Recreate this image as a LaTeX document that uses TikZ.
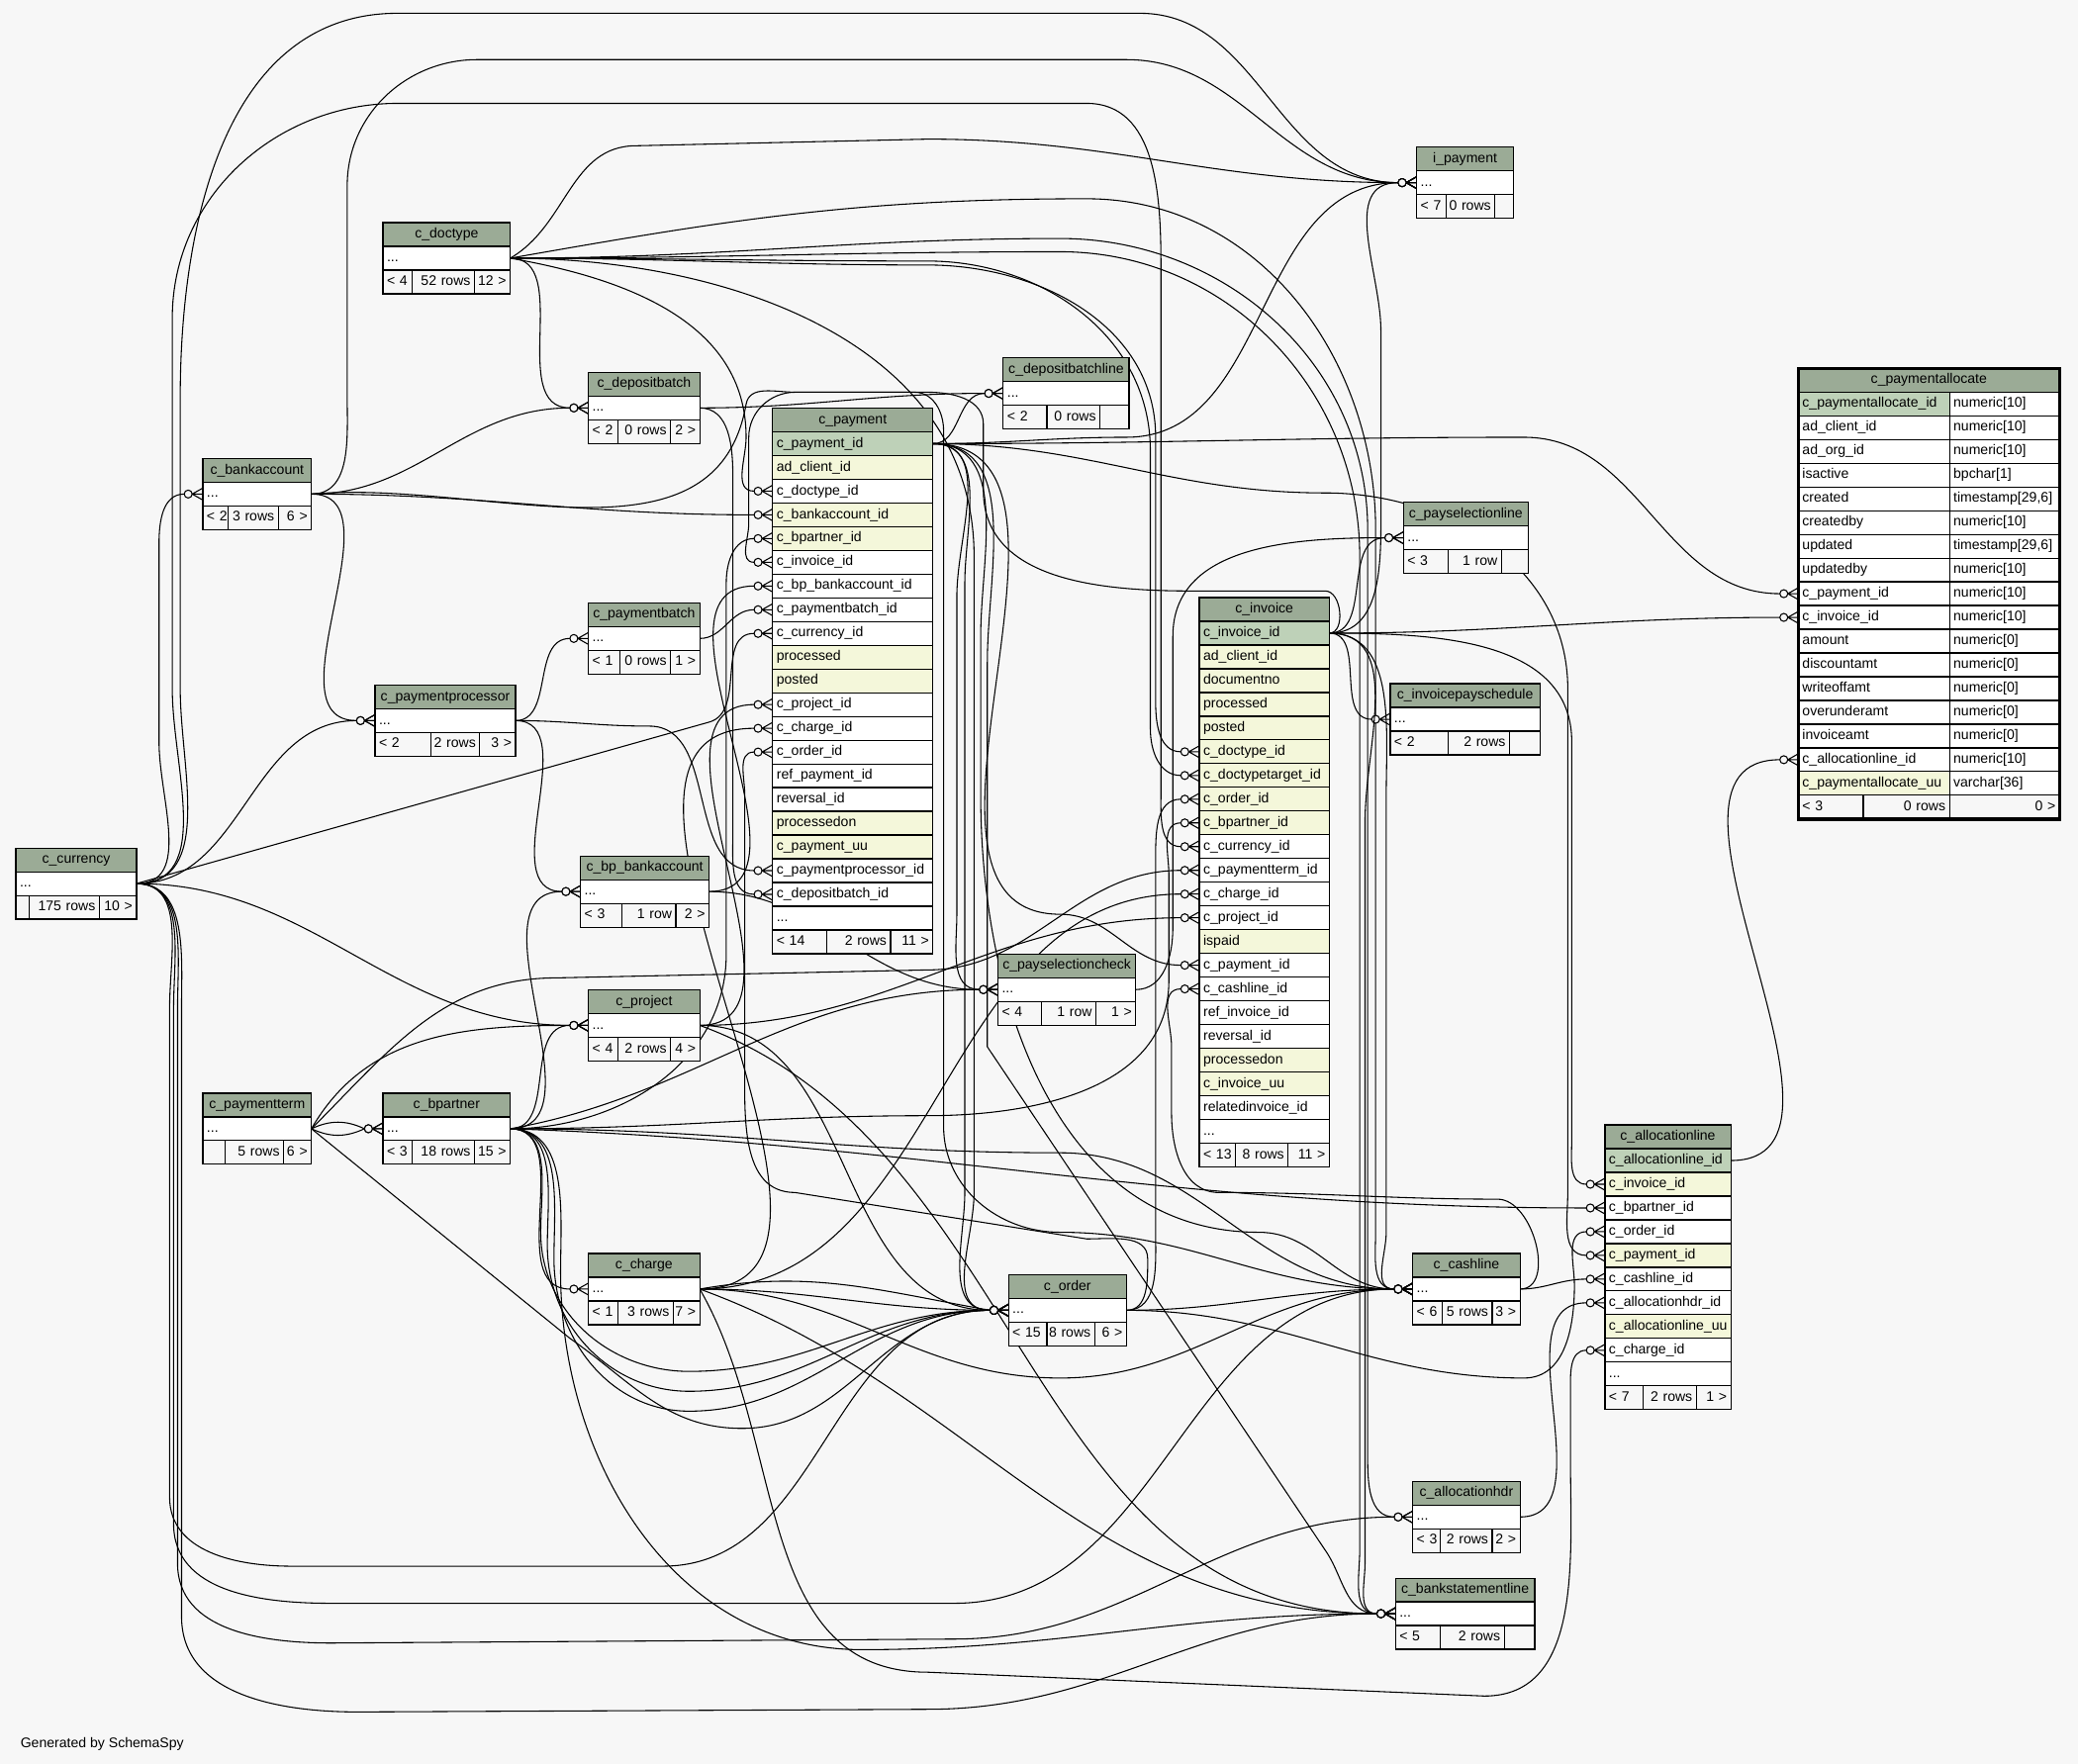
\documentclass[tikz,border=0pt]{standalone}
\usepackage{fontspec}
\setmainfont{Liberation Sans}
\usetikzlibrary{calc}

\definecolor{bgcol}{HTML}{F7F7F7}
\definecolor{hdrgreen}{HTML}{9BAB96}
\definecolor{pkgreen}{HTML}{BED1B8}
\definecolor{idxyellow}{HTML}{F4F7DA}

\newcommand{\tblfont}{\fontsize{10.5}{12}\selectfont}
\newcommand{\rowdots}{.\hbox{}..}

\pgfdeclarelayer{back}
\pgfsetlayers{back,main}

\tikzset{
  tblhead/.style={draw, line width=0.9pt, fill=hdrgreen, outer sep=0pt, inner xsep=3pt, inner ysep=0pt,
    minimum height=17.9pt, align=center, text height=7.6pt, text depth=2.2pt, font=\tblfont},
  tblrow/.style={draw, line width=0.9pt, outer sep=0pt, inner xsep=3pt, inner ysep=0pt,
    minimum height=17.9pt, align=left, text height=7.6pt, text depth=2.2pt, font=\tblfont},
  tblfoot/.style={tblrow, fill=bgcol},
  fkline/.style={line width=0.8pt},
  spl/.style={out=0, in=180},
  crowodot/.pic={
    \filldraw[line width=0.8pt, fill=bgcol] (-11,0) circle (3pt);
    \draw[line width=0.8pt] (-8,0) -- (0,-4.5) (-8,0) -- (0,0) (-8,0) -- (0,4.5);
  }
}

% table: name, title, left, right, top, rows
\newcommand{\dbtable}[6]{%
  \pgfmathsetmacro{\tw}{#4-#3-6}%
  \node[tblhead, text width=\tw pt, anchor=north west] (#1) at (#3,#5) {#2};
  \foreach [count=\i] \rtext/\rcol in {#6} {
    \node[tblrow, fill=\rcol, text width=\tw pt, anchor=north west] (#1-\i) at ($(#1.south west)+(0,{(\i-1)*17.9})$) {\rtext};
  }
}
% footer: name, last row, left, split, split, right, texts
\newcommand{\dbfoot}[9]{%
  \pgfmathsetmacro{\fwa}{#4-#3-6}\pgfmathsetmacro{\fwb}{#5-#4-6}\pgfmathsetmacro{\fwc}{#6-#5-6}%
  \node[tblfoot, text width=\fwa pt, anchor=north west] (#1-fa) at (#1-#2.south west) {\makebox[\hsize][l]{#7}};
  \node[tblfoot, text width=\fwb pt, anchor=north west] (#1-fb) at (#1-fa.north east) {\makebox[\hsize][r]{#8}};
  \node[tblfoot, text width=\fwc pt, anchor=north west] (#1-fc) at (#1-fb.north east) {\makebox[\hsize][r]{#9}};
}
% foreign key: parent row, path, child row
\newcommand{\fk}[3]{%
  \draw[fkline] (#1.east) #2 ([xshift=-14pt]#3.west);
  \pic at (#3.west) {crowodot};
}

\catcode`\_=12

\begin{document}
\begin{tikzpicture}[x=1pt, y=-1pt]
\useasboundingbox (0,0) rectangle (1568,1331.3);

% parents on the left
\dbtable{cur}{c_currency}{12}{103}{640}{\rowdots/white}
\dbfoot{cur}{1}{12}{22}{75}{103}{}{175 rows}{10 >}
\dbtable{bank}{c_bankaccount}{153}{235}{346}{\rowdots/white}
\dbfoot{bank}{1}{153}{172}{210}{235}{< 2}{3 rows}{6 >}
\dbtable{pterm}{c_paymentterm}{153}{235}{825}{\rowdots/white}
\dbfoot{pterm}{1}{153}{170}{214}{235}{}{5 rows}{6 >}
\dbtable{doct}{c_doctype}{289}{385}{168}{\rowdots/white}
\dbfoot{doct}{1}{289}{311}{358}{385}{< 4}{52 rows}{12 >}
\dbtable{bp}{c_bpartner}{289}{385}{825}{\rowdots/white}
\dbfoot{bp}{1}{289}{311}{358}{385}{< 3}{18 rows}{15 >}
\dbtable{pproc}{c_paymentprocessor}{283}{389}{517}{\rowdots/white}
\dbfoot{pproc}{1}{283}{325}{362}{389}{< 2}{2 rows}{3 >}
\dbtable{depb}{c_depositbatch}{444}{528}{281}{\rowdots/white}
\dbfoot{depb}{1}{444}{466}{506}{528}{< 2}{0 rows}{2 >}
\dbtable{pbatch}{c_paymentbatch}{444}{528}{455}{\rowdots/white}
\dbfoot{pbatch}{1}{444}{468}{506}{528}{< 1}{0 rows}{1 >}
\dbtable{bpbank}{c_bp_bankaccount}{438}{535}{646}{\rowdots/white}
\dbfoot{bpbank}{1}{438}{469}{510}{535}{< 3}{1 row}{2 >}
\dbtable{proj}{c_project}{444}{528}{747}{\rowdots/white}
\dbfoot{proj}{1}{444}{466}{506}{528}{< 4}{2 rows}{4 >}
\dbtable{chg}{c_charge}{444}{528}{946}{\rowdots/white}
\dbfoot{chg}{1}{444}{466}{508}{528}{< 1}{3 rows}{7 >}

% c_payment
\dbtable{pay}{c_payment}{583}{704}{308}{c_payment_id/pkgreen, ad_client_id/idxyellow, c_doctype_id/white,
  c_bankaccount_id/idxyellow, c_bpartner_id/idxyellow, c_invoice_id/white, c_bp_bankaccount_id/white,
  c_paymentbatch_id/white, c_currency_id/white, processed/idxyellow, posted/idxyellow, c_project_id/white,
  c_charge_id/white, c_order_id/white, ref_payment_id/white, reversal_id/white, processedon/idxyellow,
  c_payment_uu/idxyellow, c_paymentprocessor_id/white, c_depositbatch_id/white, \rowdots/white}
\dbfoot{pay}{21}{583}{624}{672}{704}{< 14}{2 rows}{11 >}

% middle column
\dbtable{dbline}{c_depositbatchline}{757}{852}{270}{\rowdots/white}
\dbfoot{dbline}{1}{757}{790}{830}{852}{< 2}{0 rows}{}
\dbtable{psc}{c_payselectioncheck}{753}{857}{720}{\rowdots/white}
\dbfoot{psc}{1}{753}{786}{827}{857}{< 4}{1 row}{1 >}
\dbtable{ord}{c_order}{761}{850}{962}{\rowdots/white}
\dbfoot{ord}{1}{761}{790}{826}{850}{< 15}{8 rows}{6 >}

% c_invoice
\dbtable{inv}{c_invoice}{905}{1003}{451}{c_invoice_id/pkgreen, ad_client_id/idxyellow, documentno/idxyellow,
  processed/idxyellow, posted/idxyellow, c_doctype_id/idxyellow, c_doctypetarget_id/idxyellow,
  c_order_id/idxyellow, c_bpartner_id/idxyellow, c_currency_id/white, c_paymentterm_id/white,
  c_charge_id/white, c_project_id/white, ispaid/idxyellow, c_payment_id/white, c_cashline_id/white,
  ref_invoice_id/white, reversal_id/white, processedon/idxyellow, c_invoice_uu/idxyellow,
  relatedinvoice_id/white, \rowdots/white}
\dbfoot{inv}{22}{905}{932}{972}{1003}{< 13}{8 rows}{11 >}

% children on the right
\dbtable{ipay}{i_payment}{1069}{1142}{111}{\rowdots/white}
\dbfoot{ipay}{1}{1069}{1091}{1128}{1142}{< 7}{0 rows}{}
\dbtable{psline}{c_payselectionline}{1059}{1153}{379}{\rowdots/white}
\dbfoot{psline}{1}{1059}{1093}{1133}{1153}{< 3}{1 row}{}
\dbtable{ips}{c_invoicepayschedule}{1049}{1162}{516}{\rowdots/white}
\dbfoot{ips}{1}{1049}{1093}{1139}{1162}{< 2}{2 rows}{}
\dbtable{cash}{c_cashline}{1066}{1147}{946}{\rowdots/white}
\dbfoot{cash}{1}{1066}{1088}{1126}{1147}{< 6}{5 rows}{3 >}
\dbtable{ahdr}{c_allocationhdr}{1066}{1147}{1118}{\rowdots/white}
\dbfoot{ahdr}{1}{1066}{1087}{1126}{1147}{< 3}{2 rows}{2 >}
\dbtable{bsl}{c_bankstatementline}{1053}{1158}{1191}{\rowdots/white}
\dbfoot{bsl}{1}{1053}{1087}{1135}{1158}{< 5}{2 rows}{}

\dbtable{aline}{c_allocationline}{1211}{1306}{849}{c_allocationline_id/pkgreen, c_invoice_id/idxyellow,
  c_bpartner_id/white, c_order_id/white, c_payment_id/idxyellow, c_cashline_id/white,
  c_allocationhdr_id/white, c_allocationline_uu/idxyellow, c_charge_id/white, \rowdots/white}
\dbfoot{aline}{10}{1211}{1240}{1280}{1306}{< 7}{2 rows}{1 >}

% c_paymentallocate
\node[tblhead, text width=191pt, anchor=north west] (palloc) at (1357,278) {c_paymentallocate};
\foreach [count=\i] \cname/\ctype/\rcol in {c_paymentallocate_id/numeric[10]/pkgreen,
    ad_client_id/numeric[10]/white, ad_org_id/numeric[10]/white, isactive/bpchar[1]/white,
    created/{timestamp[29,6]}/white, createdby/numeric[10]/white, updated/{timestamp[29,6]}/white,
    updatedby/numeric[10]/white, c_payment_id/numeric[10]/white, c_invoice_id/numeric[10]/white,
    amount/numeric[0]/white, discountamt/numeric[0]/white, writeoffamt/numeric[0]/white,
    overunderamt/numeric[0]/white, invoiceamt/numeric[0]/white, c_allocationline_id/numeric[10]/white,
    c_paymentallocate_uu/varchar[36]/idxyellow} {
  \node[tblrow, fill=\rcol, text width=108pt, anchor=north west] (palloc-\i) at ($(palloc.south west)+(0,{(\i-1)*17.9})$) {\cname};
  \node[tblrow, fill=white, text width=77pt, anchor=north west] (palloc-\i-t) at (palloc-\i.north east) {\ctype};
}
\dbfoot{palloc}{17}{1357}{1406}{1471}{1554}{< 3}{0 rows}{0 >}
\draw[line width=2.5pt] (palloc.north west) rectangle (palloc-fc.south east);

\node[anchor=west, font=\tblfont] (gen) at (12,1316) {Generated by SchemaSpy};

\begin{pgfonlayer}{back}
\fill[bgcol] (0,0) rectangle (1568,1331.3);

% c_currency
\fk{cur-1}{to[out=0,in=-90] (136,520) -- (136,300) to[out=90,in=180] (300,10) -- (860,10) to[spl]}{ipay-1}
\fk{cur-1}{to[out=0,in=-90] (120,560) -- (120,410) to[out=90,in=180]}{bank-1}
\fk{cur-1}{to[spl]}{pproc-1}
\fk{cur-1}{-- (535,545) to[out=15,in=180]}{pay-9}
\fk{cur-1}{to[spl]}{proj-1}
\fk{cur-1}{to[out=0,in=-90] (130,520) -- (130,240) to[out=90,in=180] (300,78) -- (820,78) to[out=0,in=90] (876,200) -- (876,600) to[out=-90,in=180]}{inv-10}
\fk{cur-1}{to[out=0,in=90] (128,760) -- (128,1130) to[out=-90,in=180] (220,1182) -- (500,1182) to[spl]}{ord-1}
\fk{cur-1}{to[out=0,in=90] (131,760) -- (131,1150) to[out=-90,in=180] (250,1210) -- (720,1210) to[spl]}{cash-1}
\fk{cur-1}{to[out=0,in=90] (134,760) -- (134,1180) to[out=-90,in=180] (250,1240) -- (720,1237) to[spl]}{ahdr-1}
\fk{cur-1}{to[out=0,in=90] (137,760) -- (137,1220) to[out=-90,in=180] (270,1292) -- (700,1290) to[spl]}{bsl-1}

% c_bankaccount
\fk{bank-1}{to[out=0,in=-90] (262,300) -- (262,140) to[out=90,in=180] (360,45) -- (850,45) to[spl]}{ipay-1}
\fk{bank-1}{to[spl]}{pproc-1}
\fk{bank-1}{to[spl]}{depb-1}
\fk{bank-1}{to[spl]}{pay-4}
\fk{bank-1}{to[out=5,in=-100] (563,305) to[out=80,in=180] (600,296) -- (690,296) to[out=0,in=90] (712,325) -- (712,850) to[out=-90,in=180] (800,930) to[spl]}{cash-1}

% c_doctype
\fk{doct-1}{to[spl]}{depb-1}
\fk{doct-1}{to[out=-10,in=90] (563,330) to[out=-90,in=180]}{pay-3}
\fk{doct-1}{to[out=0,in=180] (700,200) to[out=0,in=90] (872,330) -- (872,530) to[out=-90,in=180]}{inv-6}
\fk{doct-1}{to[out=0,in=180] (700,197) to[out=0,in=90] (868,340) -- (868,550) to[out=-90,in=180]}{inv-7}
\fk{doct-1}{to[out=30,in=180] (480,110) -- (700,105) to[spl]}{ipay-1}
\fk{doct-1}{to[out=0,in=90] (735,420) -- (735,900) to[out=-90,in=180]}{ord-1}
\fk{doct-1}{to[out=0,in=180] (800,180) to[out=0,in=90] (1032,400) -- (1032,1100) to[out=-90,in=180]}{ahdr-1}
\fk{doct-1}{to[out=0,in=180] (800,190) to[out=0,in=90] (1026,420) -- (1026,1170) to[out=-90,in=180]}{bsl-1}
\fk{doct-1}{to[out=10,in=180] (820,150) to[out=0,in=90] (1038,400) -- (1038,930) to[out=-90,in=180]}{cash-1}

% c_paymentterm
\fk{pterm-1}{to[out=25,in=155]}{bp-1}
\fk{pterm-1}{to[out=-25,in=-155]}{bp-1}
\fk{pterm-1}{to[out=60,in=180]}{proj-1}
\fk{pterm-1}{to[out=45,in=180] (420,738) -- (700,732) to[spl]}{inv-11}
\fk{pterm-1}{-- (430,1010) to[out=-35,in=180] (560,1078) to[spl]}{ord-1}

% c_bpartner
\fk{bp-1}{to[spl]}{proj-1}
\fk{bp-1}{to[spl]}{bpbank-1}
\fk{bp-1}{to[spl]}{chg-1}
\fk{bp-1}{to[out=0,in=-90] (548,720) -- (548,440) to[out=90,in=180]}{pay-5}
\fk{bp-1}{to[out=10,in=180]}{psc-1}
\fk{bp-1}{to[out=0,in=180] (700,842) to[out=0,in=-90] (882,740) -- (882,660) to[out=90,in=180]}{inv-9}
\fk{bp-1}{to[out=-2,in=180]}{aline-3}
\fk{bp-1}{to[out=0,in=180] (800,870) to[spl]}{cash-1}
\fk{bp-1}{to[out=0,in=90] (408,930) to[out=-90,in=180] (520,1035) to[spl]}{ord-1}
\fk{bp-1}{to[out=0,in=90] (413,940) to[out=-90,in=180] (520,1050) to[spl]}{ord-1}
\fk{bp-1}{to[out=0,in=90] (418,950) to[out=-90,in=180] (520,1065) to[spl]}{ord-1}
\fk{bp-1}{to[out=0,in=90] (423,960) to[out=-90,in=180] (650,1245) to[spl]}{bsl-1}

% c_paymentprocessor, c_depositbatch, c_paymentbatch, c_bp_bankaccount
\fk{pproc-1}{to[spl]}{pbatch-1}
\fk{pproc-1}{to[spl]}{bpbank-1}
\fk{pproc-1}{to[out=0,in=180] (490,548) to[spl]}{pay-19}
\fk{depb-1}{to[spl]}{dbline-1}
\fk{depb-1}{to[out=0,in=90] (553,360) -- (553,630) to[out=-90,in=180]}{pay-20}
\fk{pbatch-1}{to[spl]}{pay-8}
\fk{bpbank-1}{to[spl]}{pay-7}
\fk{bpbank-1}{to[spl]}{psc-1}

% c_project
\fk{proj-1}{to[spl]}{pay-12}
\fk{proj-1}{to[spl]}{inv-13}
\fk{proj-1}{to[spl]}{ord-1}
\fk{proj-1}{to[out=-20,in=180]}{bsl-1}

% c_charge
\fk{chg-1}{to[spl]}{pay-13}
\fk{chg-1}{to[spl]}{inv-12}
\fk{chg-1}{to[spl]}{ord-1}
\fk{chg-1}{to[out=10,in=170]}{ord-1}
\fk{chg-1}{to[out=0,in=180] (800,1040) to[spl]}{cash-1}
\fk{chg-1}{to[out=-60,in=180] (700,1262) -- (1120,1280) to[out=0,in=-90] (1185,1100) -- (1185,1050) to[out=90,in=180]}{aline-9}
\fk{chg-1}{to[out=-20,in=180]}{bsl-1}

% c_payment
\fk{pay-1}{to[out=0,in=180] (1150,330) to[spl]}{palloc-9}
\fk{pay-1}{to[spl]}{dbline-1}
\fk{pay-1}{to[out=0,in=180] (850,330) to[spl]}{ipay-1}
\fk{pay-1}{to[out=0,in=90] (728,440) -- (728,900) to[out=-90,in=180]}{ord-1}
\fk{pay-1}{to[out=0,in=90] (722,450) -- (722,690) to[out=-90,in=180]}{psc-1}
\fk{pay-1}{to[out=0,in=180] (800,690) to[spl]}{inv-15}
\fk{pay-1}{to[out=0,in=180] (1000,372) to[out=0,in=90] (1183,520) -- (1183,900) to[out=-90,in=180]}{aline-5}
\fk{pay-1}{to[out=0,in=90] (740,480) -- (740,600) to[out=-90,in=180] (950,930) to[spl]}{cash-1}
\fk{pay-1}{to[out=0,in=90] (745,500) -- (745,790) -- (1000,1170) to[out=-55,in=180]}{bsl-1}

% c_payselectioncheck, c_order
\fk{psc-1}{to[out=0,in=-90] (885,700) -- (885,480) to[out=90,in=180]}{psline-1}
\fk{ord-1}{to[out=0,in=-90] (872,930) -- (872,650) to[out=90,in=180]}{inv-8}
\fk{ord-1}{to[out=0,in=180] (1150,1040) to[out=0,in=-90] (1188,970) to[out=90,in=180]}{aline-4}
\fk{ord-1}{to[spl]}{cash-1}
\fk{ord-1}{to[out=0,in=-90] (866,950) to[out=90,in=0] (820,935) -- (600,900) to[out=180,in=-90] (562,800) -- (562,600) to[out=90,in=180]}{pay-14}

% c_invoice
\fk{inv-1}{to[spl]}{palloc-10}
\fk{inv-1}{to[spl]}{psline-1}
\fk{inv-1}{to[spl]}{ips-1}
\fk{inv-1}{to[out=0,in=-90] (1042,380) -- (1042,250) to[out=90,in=180]}{ipay-1}
\fk{inv-1}{to[out=0,in=0] (1000,446) -- (900,446) to[out=180,in=-90] (742,370) -- (742,320) to[out=90,in=0] (700,296) -- (600,296) to[out=180,in=90] (565,330) -- (565,395) to[out=-90,in=180]}{pay-6}
\fk{inv-1}{to[out=0,in=90] (1186,560) -- (1186,860) to[out=-90,in=180]}{aline-2}
\fk{inv-1}{to[out=0,in=90] (1046,600) -- (1046,930) to[out=-90,in=180]}{cash-1}
\fk{inv-1}{to[out=0,in=90] (1030,620) -- (1030,1180) to[out=-90,in=180]}{bsl-1}

% c_cashline, c_allocationhdr, c_allocationline
\fk{cash-1}{to[spl]}{aline-6}
\fk{cash-1}{to[out=0,in=0] (1130,905) to[out=180,in=0] (920,900) to[out=180,in=-90] (884,840) -- (884,790) to[out=90,in=180]}{inv-16}
\fk{ahdr-1}{to[spl]}{aline-7}
\fk{aline-1}{to[spl]}{palloc-16}
\end{pgfonlayer}
\end{tikzpicture}
\end{document}
